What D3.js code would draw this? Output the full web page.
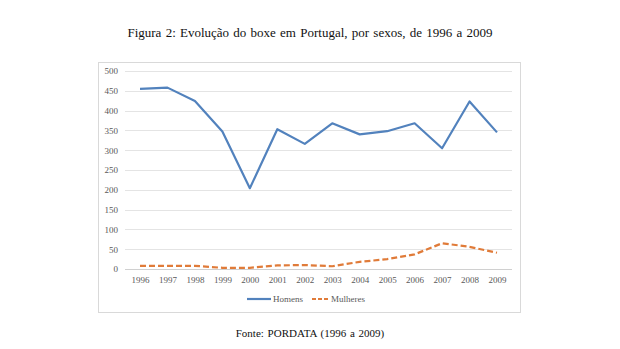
<!DOCTYPE html>
<html>
<head>
<meta charset="utf-8">
<script src="https://cdn.jsdelivr.net/npm/d3@7"></script>
<style>
  body { margin: 0; background: #fff; }
  svg text { font-family: "Liberation Serif", serif; }
</style>
</head>
<body>
<svg id="chart" width="620" height="349"></svg>
<script>
const years = [1996, 1997, 1998, 1999, 2000, 2001, 2002, 2003, 2004, 2005, 2006, 2007, 2008, 2009];
const homens = [455, 458, 424, 347, 204, 353, 316, 368, 340, 348, 368, 305, 423, 345];
const mulheres = [8, 8, 8, 3, 3, 9, 10, 7, 18, 25, 37, 65, 56, 41];
const yTicks = [0, 50, 100, 150, 200, 250, 300, 350, 400, 450, 500];

const svg = d3.select("svg#chart");

const margin = { top: 71, left: 140, right: 123, bottom: 80 };
const chartWidth = 620 - margin.left - margin.right;
const chartHeight = 349 - margin.top - margin.bottom;

// title and source
svg.append("text")
  .attr("x", 310).attr("y", 37)
  .attr("text-anchor", "middle")
  .style("font-size", "13px")
  .style("word-spacing", "1px")
  .attr("fill", "#111")
  .text("Figura 2: Evolução do boxe em Portugal, por sexos, de 1996 a 2009");

svg.append("text")
  .attr("x", 310).attr("y", 337)
  .attr("text-anchor", "middle")
  .style("font-size", "11px")
  .style("word-spacing", "1px")
  .attr("fill", "#111")
  .text("Fonte: PORDATA (1996 a 2009)");

// chart border
svg.append("rect")
  .attr("x", 98.5).attr("y", 62.5)
  .attr("width", 422).attr("height", 250)
  .attr("fill", "none")
  .attr("stroke", "#d9d9d9");

const g = svg.append("g")
  .attr("transform", `translate(${margin.left},${margin.top})`);

const x = d3.scaleLinear(d3.extent(years), [0, chartWidth]);
const y = d3.scaleLinear([0, 500], [chartHeight, 0]);

// grid
g.append("g")
  .attr("class", "y grid")
  .selectAll("line")
  .data(yTicks)
  .join("line")
  .attr("x1", -15).attr("x2", chartWidth + 15)
  .attr("y1", (d) => Math.round(y(d)) + 0.5)
  .attr("y2", (d) => Math.round(y(d)) + 0.5)
  .attr("stroke", (d) => (d === 0 ? "#d0d0d0" : "#e4e4e4"));

// y axis labels
g.append("g")
  .call(d3.axisLeft(y).tickValues(yTicks).tickSize(0).tickPadding(22))
  .call((a) => a.select(".domain").remove())
  .selectAll("text")
  .style("font-size", "9px")
  .attr("fill", "#595959");

// x axis labels
g.append("g")
  .attr("transform", `translate(0, ${chartHeight})`)
  .call(d3.axisBottom(x).tickValues(years).tickFormat(d3.format("d")).tickSize(0).tickPadding(8))
  .call((a) => a.select(".domain").remove())
  .selectAll("text")
  .style("font-size", "9px")
  .attr("fill", "#595959");

const line = d3.line()
  .x((d, i) => x(years[i]))
  .y((d) => y(d));

g.append("path")
  .attr("d", line(homens))
  .attr("fill", "none")
  .attr("stroke", "#5282bd")
  .attr("stroke-width", 2.2)
  .attr("stroke-linejoin", "round");

g.append("path")
  .attr("d", line(mulheres))
  .attr("fill", "none")
  .attr("stroke", "#e07b39")
  .attr("stroke-width", 2.2)
  .attr("stroke-dasharray", "6,3");

// legend
const legend = svg.append("g").attr("transform", "translate(0, 299)");
legend.append("line")
  .attr("x1", 247).attr("x2", 271).attr("y1", 0).attr("y2", 0)
  .attr("stroke", "#5282bd").attr("stroke-width", 2.2);
legend.append("text")
  .attr("x", 273).attr("y", 3)
  .style("font-size", "9px").attr("fill", "#595959")
  .text("Homens");
legend.append("line")
  .attr("x1", 312).attr("x2", 328).attr("y1", 0).attr("y2", 0)
  .attr("stroke", "#e07b39").attr("stroke-width", 2.2)
  .attr("stroke-dasharray", "4,2");
legend.append("text")
  .attr("x", 331).attr("y", 3)
  .style("font-size", "9px").attr("fill", "#595959")
  .text("Mulheres");
</script>
</body>
</html>
